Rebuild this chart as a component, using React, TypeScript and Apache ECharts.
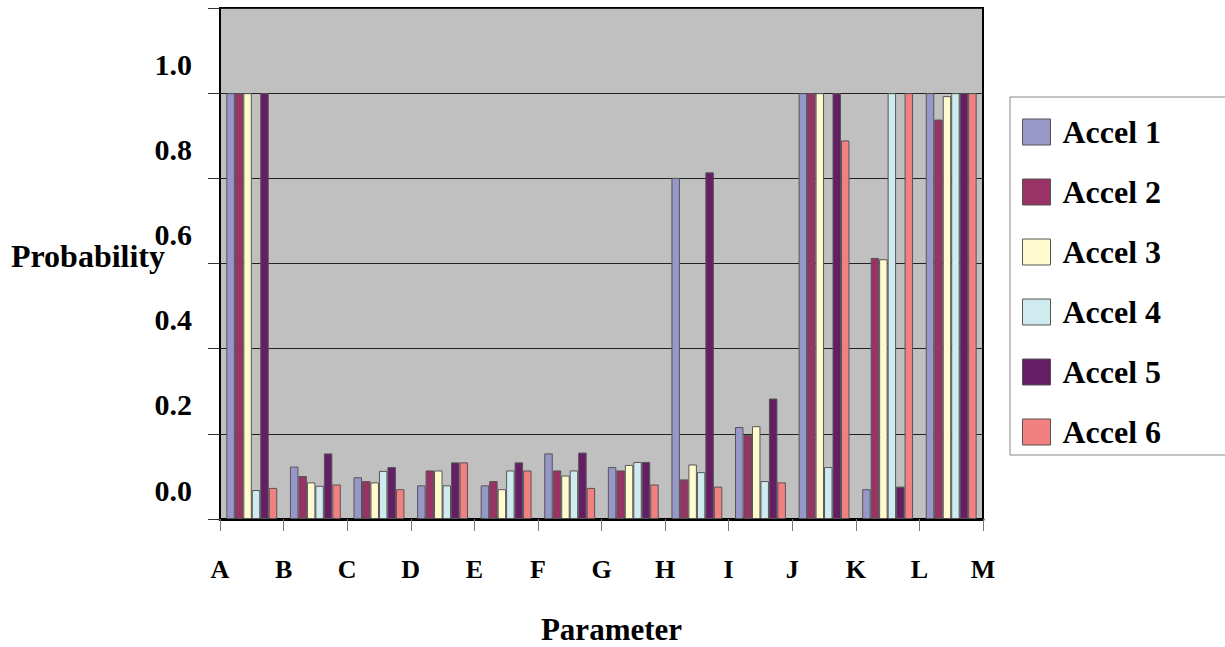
import React, { useEffect, useRef } from "react";
import * as echarts from "echarts";

const categories = ["A", "B", "C", "D", "E", "F", "G", "H", "I", "J", "K", "L"];
const tickLabels = ["A", "B", "C", "D", "E", "F", "G", "H", "I", "J", "K", "L", "M"];
const seriesNames = ["Accel 1", "Accel 2", "Accel 3", "Accel 4", "Accel 5", "Accel 6"];

const accel1 = [1.0, 0.123, 0.098, 0.079, 0.079, 0.154, 0.122, 0.801, 0.216, 1.0, 0.07, 1.0];
const accel2 = [1.0, 0.101, 0.089, 0.114, 0.089, 0.114, 0.114, 0.093, 0.197, 1.0, 0.613, 0.938];
const accel3 = [1.0, 0.086, 0.086, 0.114, 0.07, 0.102, 0.127, 0.128, 0.218, 1.0, 0.61, 0.993];
const accel4 = [0.068, 0.078, 0.113, 0.079, 0.114, 0.114, 0.134, 0.11, 0.089, 0.122, 1.0, 1.0];
const accel5 = [1.0, 0.154, 0.122, 0.133, 0.133, 0.156, 0.134, 0.814, 0.283, 1.0, 0.076, 1.0];
const accel6 = [0.073, 0.081, 0.07, 0.133, 0.114, 0.073, 0.081, 0.076, 0.086, 0.889, 1.0, 1.0];

const seriesData = [accel1, accel2, accel3, accel4, accel5, accel6];
const colors = ["#9797CA", "#993366", "#FFFBCF", "#CFEBF0", "#651D66", "#F38080"];

const FONT = "'Liberation Serif', 'Times New Roman', serif";

export default function App() {
  const ref = useRef<HTMLDivElement>(null);

  useEffect(() => {
    if (!ref.current) return;
    const chart = echarts.init(ref.current, null, { renderer: "svg" });
    chart.setOption({
      animation: false,
      backgroundColor: "#ffffff",
      color: colors,
      grid: {
        left: 220,
        top: 8,
        right: 242,
        bottom: 128,
        outerBoundsMode: "none",
        containLabel: false,
        show: true,
        backgroundColor: "#C0C0C0",
        borderColor: "#000000",
        borderWidth: 2,
      },
      legend: {
        orient: "vertical",
        left: 1010,
        top: 97,
        padding: [19, 120, 7, 12],
        itemWidth: 28,
        itemHeight: 26,
        itemGap: 28,
        icon: "rect",
        backgroundColor: "#ffffff",
        borderColor: "#888888",
        borderWidth: 1,
        borderRadius: 0,
        itemStyle: { borderColor: "#555555", borderWidth: 1 },
        textStyle: {
          fontFamily: FONT,
          fontWeight: "bold",
          fontSize: 32,
          color: "#000000",
          padding: [0, 0, 0, 7],
        },
        data: seriesNames,
      },
      xAxis: [
        {
          type: "category",
          data: categories,
          position: "bottom",
          axisLine: { show: true, lineStyle: { color: "#000000", width: 3 } },
          axisTick: { show: true, length: 12, lineStyle: { color: "#777777", width: 1 } },
          axisLabel: { show: false },
          splitLine: { show: false },
          name: "Parameter",
          nameLocation: "middle",
          nameGap: 95,
          nameMoveOverlap: false,
          nameTextStyle: {
            fontFamily: FONT,
            fontWeight: "bold",
            fontSize: 31,
            color: "#000000",
            padding: [0, 0, 0, 20],
          },
        },
        {
          type: "category",
          data: tickLabels,
          position: "bottom",
          boundaryGap: false,
          axisLine: { show: false },
          axisTick: { show: false },
          splitLine: { show: false },
          axisLabel: {
            show: true,
            interval: 0,
            margin: 37,
            fontFamily: FONT,
            fontWeight: "bold",
            fontSize: 26,
            color: "#000000",
          },
        },
      ],
      yAxis: {
        type: "value",
        min: 0,
        max: 1.2,
        interval: 0.2,
        axisLine: { show: true, lineStyle: { color: "#000000", width: 2 } },
        axisTick: { show: true, inside: false, length: 12, lineStyle: { color: "#333333", width: 1 } },
        splitLine: { show: true, lineStyle: { color: "#222222", width: 1 } },
        axisLabel: {
          margin: 28,
          fontFamily: FONT,
          fontWeight: "bold",
          fontSize: 30,
          color: "#000000",
          verticalAlign: "bottom",
          lineHeight: 58,
          formatter: (v: number) => (v > 1.1 ? "" : v.toFixed(1)),
        },
        name: "Probability",
        nameLocation: "middle",
        nameRotate: 0,
        nameGap: 55,
        nameMoveOverlap: false,
        nameTextStyle: {
          fontFamily: FONT,
          fontWeight: "bold",
          fontSize: 32,
          color: "#000000",
          verticalAlign: "bottom",
          lineHeight: 15,
        },
      },
      series: seriesNames.map((name, i) => ({
        name,
        type: "bar",
        xAxisIndex: 0,
        data: seriesData[i],
        barGap: "0%",
        barCategoryGap: "20%",
        itemStyle: { color: colors[i], borderColor: "#555555", borderWidth: 1 },
      })),
    });
    return () => chart.dispose();
  }, []);

  return (
    <div
      ref={ref}
      style={{ position: "fixed", left: 0, top: 0, width: 1225, height: 647, background: "#fff" }}
    />
  );
}
